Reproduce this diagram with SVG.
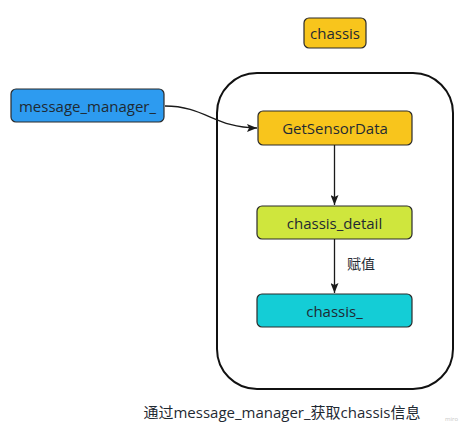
<svg xmlns="http://www.w3.org/2000/svg" width="469" height="432" viewBox="0 0 469 432">
<defs>
<marker id="ah" markerWidth="10" markerHeight="8" refX="10" refY="4" orient="auto" markerUnits="userSpaceOnUse">
<path d="M0,0 L10,4 L0,8 L2,4 Z" fill="#1a1a1a"/>
</marker>
<style>
.n{stroke:#2a2a2a;stroke-width:1.2}
.t{font-family:"Open Sans","Noto Sans","Noto Sans CJK SC",sans-serif;font-size:15px;fill:#1f2a33;text-anchor:middle;dominant-baseline:central}
.c{fill:none;stroke:#1a1a1a;stroke-width:1.3}
</style>
</defs>
<rect width="469" height="432" fill="#ffffff"/>
<g id="container"><rect x="217" y="73" width="236" height="316" rx="40" fill="none" stroke="#111" stroke-width="2"/></g>
<g id="chassis_label"><rect class="n" x="304" y="18" width="62" height="30" rx="5" fill="#F8C51C" stroke-width="2"/><text class="t" x="335" y="33">chassis</text></g>
<g id="message_manager"><rect class="n" x="11" y="89" width="153" height="33" rx="5" fill="#2D9BF0"/><text class="t" x="87.5" y="105.5">message_manager_</text></g>
<g id="GetSensorData"><rect class="n" x="258" y="111" width="154" height="34" rx="5" fill="#F8C51C"/><text class="t" x="335" y="128">GetSensorData</text></g>
<g id="chassis_detail"><rect class="n" x="257" y="206" width="155" height="33" rx="5" fill="#CFE63D"/><text class="t" x="334.5" y="222.5">chassis_detail</text></g>
<g id="chassis_"><rect class="n" x="257" y="294" width="155" height="33" rx="5" fill="#14CDD6"/><text class="t" x="334.5" y="310.5">chassis_</text></g>
<g id="connectors">
<path class="c" d="M165,106 C205,106 215,128 257,128" marker-end="url(#ah)"/>
<path class="c" d="M334.5,145 L334.5,205" marker-end="url(#ah)"/>
<path class="c" d="M334.5,239 L334.5,293" marker-end="url(#ah)"/>
<text class="t" x="361" y="263" style="font-size:14px">赋值</text>
</g>
<text class="t" x="282" y="412">通过message_manager_获取chassis信息</text>
<text x="445" y="421" style="font-family:'Open Sans',sans-serif;font-size:6px;fill:#c8c8c8">miro</text>
</svg>
